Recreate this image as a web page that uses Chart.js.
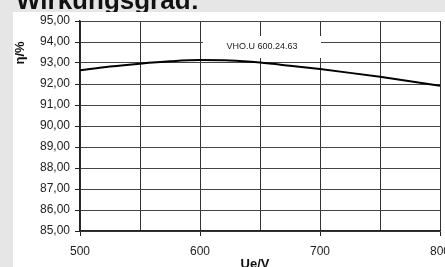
<!DOCTYPE html>
<html><head><meta charset="utf-8">
<script src="https://cdn.jsdelivr.net/npm/chart.js@4"></script>
<style>html,body{margin:0;padding:0;background:#e6e6e6;}canvas{display:block;}</style>
</head><body>
<canvas id="c" width="445" height="267"></canvas>
<script>
const voltages = [500, 525, 550, 575, 600, 625, 650, 675, 700, 725, 750, 775, 800];
const efficiency = [92.65, 92.83, 92.97, 93.08, 93.14, 93.12, 93.02, 92.87, 92.71, 92.53, 92.34, 92.13, 91.92];
const seriesLabel = 'VHO.U 600.24.63';
const titleText = 'Wirkungsgrad:';
const xTitle = 'Ue/V';
const yTitle = 'η/%';

const FONT = '"Liberation Sans", Arial, sans-serif';

const decor = {
  id: 'decor',
  beforeDraw(chart) {
    const ctx = chart.ctx;
    ctx.save();
    ctx.fillStyle = '#e6e6e6';
    ctx.fillRect(0, 0, chart.width, chart.height);
    ctx.fillStyle = '#111';
    ctx.font = 'bold 26px ' + FONT;
    ctx.textBaseline = 'alphabetic';
    ctx.textAlign = 'left';
    ctx.fillText(titleText, 16, 9);
    ctx.fillStyle = '#ffffff';
    ctx.fillRect(13, 12, chart.width - 13, chart.height - 12);
    ctx.restore();
  },
  beforeDatasetsDraw(chart) {
    const ctx = chart.ctx;
    ctx.save();
    ctx.fillStyle = '#ffffff';
    ctx.fillRect(203, 36, 118, 22);
    ctx.fillStyle = '#222';
    ctx.font = '9px ' + FONT;
    ctx.textAlign = 'center';
    ctx.textBaseline = 'middle';
    ctx.fillText(seriesLabel, 262, 47);
    ctx.restore();
  },
  afterDraw(chart) {
    const ctx = chart.ctx;
    ctx.save();
    ctx.fillStyle = '#111';
    ctx.font = 'bold 13px ' + FONT;
    ctx.textAlign = 'center';
    ctx.textBaseline = 'middle';
    ctx.fillText(xTitle, 255, 264);
    ctx.translate(20.5, 53);
    ctx.rotate(-Math.PI / 2);
    ctx.fillText(yTitle, 0, 0);
    ctx.restore();
  }
};

new Chart(document.getElementById('c'), {
  type: 'line',
  data: {
    datasets: [{
      label: seriesLabel,
      data: voltages.map((v, i) => ({ x: v, y: efficiency[i] })),
      borderColor: '#000',
      borderWidth: 2,
      pointRadius: 0,
      fill: false,
      cubicInterpolationMode: 'monotone'
    }]
  },
  options: {
    responsive: false,
    devicePixelRatio: 1,
    animation: false,
    layout: { padding: { left: 0, right: 5, top: 21, bottom: 0 } },
    plugins: { legend: { display: false }, tooltip: { enabled: false } },
    scales: {
      x: {
        type: 'linear', min: 500, max: 800,
        grid: { color: '#333', lineWidth: 1, tickLength: 5, drawTicks: true,
          tickColor: c => (c.tick && c.tick.value % 100 === 0) ? '#222' : 'rgba(0,0,0,0)' },
        border: { color: '#222', width: 1.5 },
        ticks: { stepSize: 50, autoSkip: false, maxRotation: 0, padding: 8, color: '#222',
          font: { family: FONT, size: 12 },
          callback: v => (v % 100 === 0 ? String(v) : '') },
        afterFit(s) { s.height = 36; s.paddingLeft = 0; s.paddingRight = 0; }
      },
      y: {
        min: 85, max: 95,
        grid: { color: '#444', lineWidth: 1, tickLength: 5, tickColor: '#222' },
        border: { color: '#222', width: 1.5 },
        ticks: { stepSize: 1, padding: 5, color: '#222', font: { family: FONT, size: 12 },
          callback: v => v.toFixed(2).replace('.', ',') },
        afterFit(s) { s.width = 80; s.paddingTop = 0; s.paddingBottom = 0; }
      }
    }
  },
  plugins: [decor]
});
</script>
</body></html>
